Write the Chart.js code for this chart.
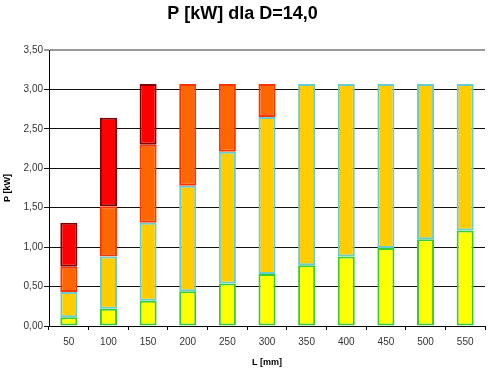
<!DOCTYPE html>
<html>
<head>
<meta charset="utf-8">
<script src="https://cdn.jsdelivr.net/npm/chart.js@4.4.0/dist/chart.umd.min.js"></script>
<style>
  html, body { margin: 0; padding: 0; background: #fff; }
  #wrap { width: 500px; height: 370px; }
</style>
</head>
<body>
<div id="wrap"><canvas id="myChart" width="500" height="370"></canvas></div>
<script>
// L [mm]
var labels = ['50', '100', '150', '200', '250', '300', '350', '400', '450', '500', '550'];

// stacked parts of P [kW], bottom to top
var partYellow = [0.11, 0.22, 0.32, 0.44, 0.54, 0.66, 0.77, 0.88, 0.99, 1.10, 1.21];
var partGold   = [0.32, 0.66, 0.99, 1.34, 1.67, 1.99, 2.30, 2.19, 2.08, 1.97, 1.86];
var partOrange = [0.32, 0.64, 0.99, 1.29, 0.86, 0.42, null, null, null, null, null];
var partRed    = [0.56, 1.12, 0.77, null, null, null, null, null, null, null, null];

var yTicks = [0, 0.5, 1, 1.5, 2, 2.5, 3, 3.5];

function seg(data, fill, border) {
    return {
        data: data,
        backgroundColor: fill,
        borderColor: border,
        borderWidth: 2,
        borderSkipped: false,
        barPercentage: 0.43,
        categoryPercentage: 1.0
    };
}

const ctx = document.getElementById('myChart').getContext('2d');
const myChart = new Chart(ctx, {
    type: 'bar',
    data: {
        labels: labels,
        datasets: [
            seg(partYellow, '#ffff00', '#33cc33'),
            seg(partGold, '#ffcc00', '#66cccc'),
            seg(partOrange, '#ff6600', '#ff3300'),
            seg(partRed, '#ff0000', '#800000')
        ]
    },
    options: {
        responsive: false,
        animation: false,
        layout: { padding: { left: 0, right: 15, top: 0, bottom: 0 } },
        plugins: {
            legend: { display: false },
            tooltip: { enabled: false },
            title: {
                display: true,
                text: 'P [kW] dla D=14,0',
                color: '#000',
                font: { family: 'Arial, "Liberation Sans"', size: 18, weight: 'bold' },
                padding: { top: 3, bottom: 25.4 }
            }
        },
        scales: {
            x: {
                stacked: true,
                offset: true,
                grid: {
                    offset: true,
                    drawOnChartArea: false,
                    color: '#000',
                    tickLength: 4
                },
                border: { color: '#000', width: 1 },
                ticks: {
                    color: '#333',
                    padding: 6,
                    maxRotation: 0,
                    font: { family: 'Arial, "Liberation Sans"', size: 10 }
                },
                title: {
                    display: true,
                    text: 'L [mm]',
                    color: '#000',
                    padding: { top: 0, bottom: 2 },
                    font: { family: 'Arial, "Liberation Sans"', size: 9, weight: 'bold' }
                },
                afterFit: function (scale) { scale.height = 44; }
            },
            y: {
                stacked: true,
                min: 0,
                max: 3.5,
                afterBuildTicks: function (scale) {
                    scale.ticks = yTicks.map(function (v) { return { value: v }; });
                },
                grid: {
                    color: function (c) { return c.tick && c.tick.value === 3.5 ? '#999' : '#111'; },
                    lineWidth: function (c) { return c.tick && c.tick.value === 3.5 ? 2 : 1; },
                    tickLength: 5
                },
                border: { color: '#000', width: 1 },
                ticks: {
                    color: '#333',
                    padding: 1,
                    font: { family: 'Arial, "Liberation Sans"', size: 10 },
                    callback: function (v) { return Number(v).toFixed(2).replace('.', ','); }
                },
                title: {
                    display: true,
                    text: 'P [kW]',
                    color: '#000',
                    padding: { top: 2, bottom: 0 },
                    font: { family: 'Arial, "Liberation Sans"', size: 9, weight: 'bold' }
                },
                afterFit: function (scale) { scale.width = 49; }
            }
        }
    }
});
</script>
</body>
</html>
